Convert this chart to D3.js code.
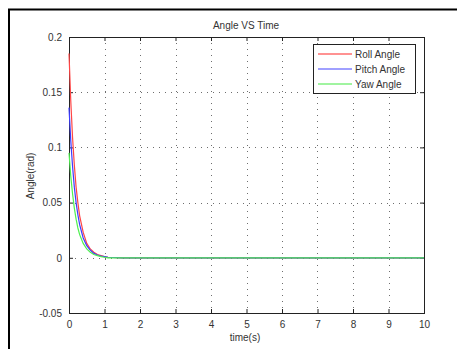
<!DOCTYPE html>
<html>
<head>
<meta charset="utf-8">
<script src="https://cdn.jsdelivr.net/npm/d3@7"></script>
<style>
  body { margin: 0; background: #fff; }
  svg text { font-family: "Liberation Sans", Arial, sans-serif; fill: #333; }
</style>
</head>
<body>
<svg id="chart" width="457" height="349"></svg>
<script>
// time samples (s) and angles (rad)
var time  = [0, 0.05, 0.1, 0.15, 0.2, 0.25, 0.3, 0.4, 0.5, 0.6, 0.7, 0.8, 0.9, 1.0, 1.1, 1.5, 10];
var roll  = [0.185, 0.142, 0.109, 0.084, 0.064, 0.050, 0.038, 0.023, 0.013, 0.008, 0.005, 0.003, 0.002, 0.001, 0.0005, 0, 0];
var pitch = [0.136, 0.106, 0.083, 0.064, 0.050, 0.039, 0.030, 0.018, 0.011, 0.007, 0.004, 0.0025, 0.0015, 0.001, 0.0005, 0, 0];
var yaw   = [0.095, 0.074, 0.058, 0.045, 0.035, 0.027, 0.021, 0.013, 0.008, 0.005, 0.003, 0.002, 0.001, 0.0005, 0, 0, 0];

var xTicks = [0, 1, 2, 3, 4, 5, 6, 7, 8, 9, 10];
var yTicks = [-0.05, 0, 0.05, 0.1, 0.15, 0.2];
var yTickLabels = ["-0.05", "0", "0.05", "0.1", "0.15", "0.2"];

var seriesNames = ["Roll Angle", "Pitch Angle", "Yaw Angle"];
var seriesData = [roll, pitch, yaw];
var colors = ["#ff4646", "#3c3cff", "#50f050"];
var legendColors = ["#ff6e6e", "#8080ff", "#80f080"];

var svg = d3.select("#chart");

// outer frame
svg.append("path").attr("d", "M9,349 V9.5 H457")
    .attr("fill", "none").attr("stroke", "#000").attr("stroke-width", 2);

var plot = {left: 69, right: 424, top: 37, bottom: 313};

var x = d3.scaleLinear().domain([0, 10]).range([plot.left, plot.right]);
var y = d3.scaleLinear().domain([-0.05, 0.2]).range([plot.bottom, plot.top]);

// grid
var grid = svg.append("g").attr("stroke", "#222").attr("stroke-width", 1)
    .attr("stroke-dasharray", "1,5").attr("opacity", 0.65);
grid.selectAll(".vg").data(xTicks.slice(1, -1)).join("line")
    .attr("x1", d => Math.round(x(d)) + 0.5).attr("x2", d => Math.round(x(d)) + 0.5)
    .attr("y1", plot.top).attr("y2", plot.bottom);
grid.selectAll(".hg").data(yTicks.slice(1, -1)).join("line")
    .attr("x1", plot.left).attr("x2", plot.right)
    .attr("y1", d => Math.round(y(d)) + 0.5).attr("y2", d => Math.round(y(d)) + 0.5);

// axes (MATLAB style, ticks inside)
var xAxis = d3.axisBottom(x).tickValues(xTicks).tickSize(-4).tickPadding(8).tickFormat(d3.format("d"));
var xg = svg.append("g").attr("transform", "translate(0," + plot.bottom + ")").call(xAxis);
var xAxisTop = d3.axisTop(x).tickValues(xTicks).tickSize(-4).tickFormat("");
var xgt = svg.append("g").attr("transform", "translate(0," + plot.top + ")").call(xAxisTop);
var yAxis = d3.axisLeft(y).tickValues(yTicks).tickSize(-4).tickPadding(7)
    .tickFormat((d, i) => yTickLabels[i]);
var yg = svg.append("g").attr("transform", "translate(" + plot.left + ",0)").call(yAxis);
var yAxisR = d3.axisRight(y).tickValues(yTicks).tickSize(-4).tickFormat("");
var ygr = svg.append("g").attr("transform", "translate(" + plot.right + ",0)").call(yAxisR);

[xg, xgt, yg, ygr].forEach(function (g) {
    g.select(".domain").remove();
    g.selectAll("line").attr("stroke", "#222");
    g.selectAll("text").attr("font-size", 10).attr("fill", "#333")
        .attr("font-family", "'Liberation Sans', Arial, sans-serif");
});

// box
svg.append("rect").attr("x", plot.left + 0.5).attr("y", plot.top + 0.5)
    .attr("width", plot.right - plot.left).attr("height", plot.bottom - plot.top)
    .attr("fill", "none").attr("stroke", "#222").attr("stroke-width", 1);

// curves
var line = d3.line().x((d, i) => x(time[i])).y(d => y(d));
svg.append("g").selectAll("path").data(seriesData).join("path")
    .attr("d", line)
    .attr("fill", "none")
    .attr("stroke", (d, i) => colors[i])
    .attr("stroke-width", 1.2);

// title and labels
svg.append("text").attr("x", 246).attr("y", 29).attr("text-anchor", "middle")
    .attr("font-size", 10).text("Angle VS Time");
svg.append("text").attr("x", 245).attr("y", 341).attr("text-anchor", "middle")
    .attr("font-size", 10).text("time(s)");
svg.append("text").attr("transform", "translate(34,176) rotate(-90)")
    .attr("text-anchor", "middle").attr("font-size", 10).text("Angle(rad)");

// legend
var legend = svg.append("g");
legend.append("rect").attr("x", 313.5).attr("y", 44.5).attr("width", 102).attr("height", 49)
    .attr("fill", "#fff").attr("stroke", "#222");
var items = legend.selectAll(".item").data(seriesNames).join("g")
    .attr("transform", (d, i) => "translate(0," + (54 + i * 15) + ")");
items.append("line").attr("x1", 318).attr("x2", 352).attr("y1", 0).attr("y2", 0)
    .attr("stroke", (d, i) => legendColors[i]).attr("stroke-width", 1.5);
items.append("text").attr("x", 355).attr("y", 4).attr("font-size", 10).text(d => d);
</script>
</body>
</html>
